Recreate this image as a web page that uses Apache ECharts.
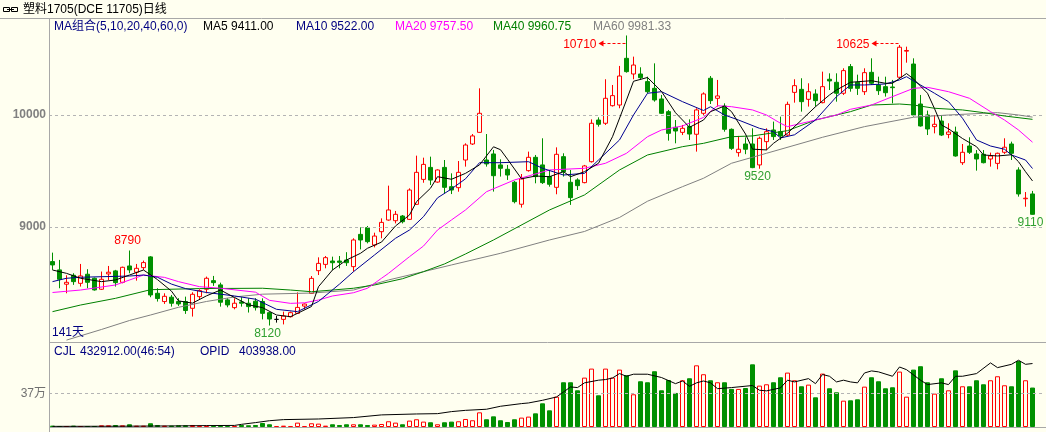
<!DOCTYPE html>
<html><head><meta charset="utf-8">
<script src="https://cdn.jsdelivr.net/npm/echarts@6/dist/echarts.min.js"></script>
<style>html,body{margin:0;padding:0;background:#fffff0}#c{width:1046px;height:432px}</style>
</head><body><div id="c"></div>
<script>
// ---------------- data ----------------
const opens = [8691,8617,8489,8569,8497,8578,8542,8444,8581,8608,
8506,8652,8596,8637,8733,8408,8334,8373,8334,8334,
8274,8378,8444,8521,8483,8349,8280,8331,8319,8337,
8335,8235,8175,8175,8199,8229,8294,8407,8610,8666,
8696,8696,8705,8646,8934,8994,8839,8958,9062,9056,
9098,9068,9202,9425,9532,9401,9532,9360,9351,9598,
9741,9845,9598,9652,9554,9515,9399,9203,9503,9622,
9554,9450,9354,9628,9399,9420,9396,9583,9955,9926,
10083,10089,10506,10366,10366,10298,10238,10143,10030,9890,
9845,9896,9828,10015,10328,10149,10080,9872,9664,9741,
9741,9554,9762,9866,9851,9821,10202,10229,10140,10188,
10110,10319,10292,10194,10432,10292,10208,10381,10268,10253,
10250,10337,10570,10455,10098,10000,9896,9946,9827,9848,
9574,9723,9652,9649,9607,9568,9667,9741,9509,9252,
9295];
const closes = [8661,8533,8506,8512,8563,8506,8438,8533,8596,8503,
8640,8617,8631,8682,8393,8361,8381,8319,8313,8254,
8399,8432,8542,8503,8328,8304,8319,8319,8289,8280,
8229,8178,8175,8205,8235,8282,8312,8541,8675,8726,
8681,8684,8681,8884,8884,8869,8919,9041,9152,9113,
9047,9330,9488,9559,9419,9509,9354,9330,9488,9732,
9813,10015,9563,9458,9524,9464,9226,9429,9622,9450,
9396,9381,9649,9494,9262,9369,9545,9926,9917,10149,
10173,10348,10387,10446,10333,10208,10134,10015,9836,9857,
9881,9830,10045,10188,10128,10170,9872,9702,9694,9694,
9530,9792,9851,9807,9813,10095,10262,10119,10208,10128,
10253,10304,10194,10396,10238,10238,10378,10283,10217,10199,
10244,10605,10576,10000,9902,9875,9917,9821,9848,9634,
9667,9667,9607,9574,9634,9658,9712,9658,9295,9257,
9113];
const lows = [8617,8453,8408,8483,8468,8453,8432,8438,8527,8468,
8497,8587,8521,8617,8373,8334,8313,8289,8295,8224,
8200,8349,8408,8474,8289,8283,8265,8289,8236,8254,
8175,8120,8146,8130,8193,8223,8265,8402,8571,8631,
8616,8631,8652,8601,8800,8854,8818,8899,9056,9032,
9032,9062,9196,9395,9375,9395,9300,9294,9315,9539,
9732,9842,9539,9316,9450,9420,9211,9173,9494,9390,
9384,9360,9292,9450,9197,9330,9390,9575,9896,9911,
10075,10060,10378,10319,10313,10194,10119,10009,9771,9747,
9821,9777,9673,10000,10098,10075,9851,9688,9628,9650,
9525,9520,9688,9777,9777,9813,10110,10030,10075,10075,
10104,10223,10119,10179,10208,10179,10179,10268,10179,10164,
10104,10330,10467,9985,9896,9821,9836,9812,9792,9628,
9554,9652,9503,9568,9539,9515,9652,9598,9271,9181,
9110];
const highs = [8771,8706,8569,8587,8670,8623,8548,8602,8652,8617,
8646,8790,8670,8700,8740,8453,8408,8393,8364,8378,
8417,8444,8557,8563,8503,8364,8364,8373,8364,8364,
8363,8240,8205,8244,8244,8416,8318,8562,8729,8741,
8735,8741,8775,8899,8997,9009,8949,9077,9369,9143,
9107,9345,9637,9619,9628,9515,9598,9479,9589,9747,
9830,10238,9830,9688,9604,9554,9411,9473,9673,9643,
9792,9503,9711,9658,9509,9435,9554,9961,9979,10319,
10268,10438,10710,10521,10426,10342,10461,10179,10045,9955,
9911,9961,10060,10202,10348,10313,10104,9880,9813,9800,
9881,9807,9881,9941,9985,10119,10319,10328,10283,10229,
10387,10372,10372,10417,10455,10360,10417,10506,10342,10342,
10313,10625,10610,10506,10179,10039,10000,10000,9926,9896,
9741,9801,9687,9687,9664,9664,9792,9762,9533,9312,
9322];
const volumes = [15000,11000,8000,15000,8000,8000,8000,19000,19000,22000,
19000,30000,15000,15000,41000,22000,15000,15000,19000,19000,
22000,15000,15000,15000,15000,11000,11000,22000,19000,22000,
44000,30000,11000,15000,11000,48000,11000,41000,37000,15000,
30000,22000,30000,30000,30000,22000,26000,33000,63000,48000,
30000,70000,85000,59000,52000,30000,52000,59000,63000,88000,
74000,161000,85000,117000,74000,55000,85000,103000,114000,150000,
260000,183000,333000,491000,491000,403000,542000,641000,348000,641000,
542000,630000,568000,359000,502000,491000,612000,403000,516000,374000,
513000,535000,677000,579000,513000,491000,491000,418000,418000,428000,
688000,454000,469000,491000,546000,597000,513000,447000,465000,326000,
586000,425000,381000,289000,293000,304000,443000,546000,502000,425000,
436000,608000,333000,630000,667000,491000,366000,535000,403000,622000,
447000,447000,513000,469000,513000,557000,458000,447000,725000,513000,
432912];
// moving averages: [day index, value]
const ma5 = [[0,8616],[2,8586],[4,8542],[7,8512],[9,8527],[11,8571],[13,8616],[15,8530],[17,8427],[18,8340],[20,8320],[22,8385],[24,8437],[26,8370],[28,8305],[30,8280],[32,8214],[34,8199],[35,8229],[37,8290],[38,8467],[40,8616],[42,8705],[44,8765],[45,8810],[47,8865],[49,9009],[51,9107],[52,9226],[54,9346],[55,9449],[57,9426],[59,9479],[61,9554],[63,9716],[64,9690],[65,9605],[67,9430],[69,9455],[71,9449],[73,9494],[74,9449],[76,9494],[78,9569],[80,9806],[82,10134],[83,10301],[85,10335],[87,10210],[89,10020],[91,9890],[93,9955],[94,10030],[96,10080],[97,10030],[99,9830],[100,9695],[102,9688],[103,9747],[105,9837],[107,9955],[109,10074],[111,10179],[112,10223],[114,10292],[117,10306],[119,10283],[120,10283],[122,10370],[123,10322],[125,10194],[126,10057],[127,9910],[128,9877],[130,9790],[132,9717],[133,9643],[135,9634],[137,9645],[138,9583],[139,9494],[140,9411]];
const ma10 = [[0,8512],[2,8542],[4,8551],[7,8556],[11,8562],[13,8571],[15,8551],[17,8490],[19,8450],[22,8415],[24,8400],[26,8384],[29,8355],[32,8265],[35,8244],[38,8335],[41,8490],[43,8601],[46,8750],[49,8899],[51,8973],[53,9092],[55,9260],[57,9340],[59,9430],[61,9574],[64,9574],[68,9583],[70,9524],[73,9464],[76,9479],[78,9598],[81,9777],[83,10000],[85,10194],[87,10208],[90,10119],[93,10040],[94,10074],[96,10000],[98,9955],[101,9881],[103,9851],[104,9795],[106,9823],[109,9955],[112,10164],[114,10268],[116,10268],[119,10277],[121,10313],[122,10342],[124,10268],[126,10194],[128,10119],[130,9971],[132,9777],[134,9723],[136,9694],[137,9643],[139,9598],[140,9522]];
const ma20 = [[0,8415],[4,8437],[9,8482],[13,8571],[16,8550],[18,8512],[21,8467],[24,8453],[29,8418],[31,8345],[34,8318],[36,8323],[38,8348],[40,8384],[43,8413],[45,8453],[47,8542],[48,8586],[51,8735],[53,8830],[55,8973],[57,9063],[59,9152],[62,9315],[66,9420],[71,9509],[76,9524],[79,9569],[82,9658],[85,9806],[87,9866],[90,9902],[93,9978],[95,10083],[97,10074],[100,10045],[102,10000],[104,9926],[105,9896],[108,9940],[112,10000],[114,10051],[117,10089],[120,10164],[123,10238],[125,10247],[128,10208],[131,10149],[134,10030],[136,9955],[138,9866],[140,9757]];
const ma40 = [[0,8244],[4,8303],[9,8363],[14,8440],[21,8450],[30,8453],[34,8437],[37,8422],[40,8437],[43,8453],[46,8482],[50,8538],[53,8601],[56,8670],[59,8759],[63,8884],[71,9152],[76,9286],[81,9509],[85,9643],[90,9717],[93,9747],[97,9806],[100,9813],[105,9860],[109,9955],[114,10030],[117,10089],[121,10098],[123,10089],[126,10060],[130,10045],[133,10021],[136,9991],[140,9961]];
const ma60 = [[2,7990],[7,8085],[11,8165],[14,8214],[18,8283],[22,8335],[26,8375],[30,8400],[37,8410],[43,8437],[48,8527],[53,8601],[57,8661],[64,8765],[71,8884],[76,8960],[81,9085],[85,9230],[90,9360],[93,9435],[97,9569],[102,9658],[110,9801],[116,9896],[123,9980],[128,10000],[135,10021],[138,10000],[140,9981]];
const opid = [[0,4000],[10,5000],[18,7000],[22,9000],[26,10000],[27,17000],[29,28000],[31,40000],[33,47000],[38,51000],[43,60000],[47,77000],[52,83000],[55,85000],[57,98000],[59,106000],[62,113000],[64,132000],[67,149000],[68,153000],[70,170000],[72,191000],[73,223000],[74,255000],[75,251000],[76,281000],[78,298000],[79,302000],[80,312000],[81,340000],[82,323000],[83,336000],[85,336000],[87,315000],[89,276000],[90,293000],[91,259000],[92,281000],[93,293000],[94,281000],[95,244000],[97,251000],[100,264000],[101,234000],[102,230000],[104,249000],[105,298000],[106,287000],[108,308000],[109,276000],[110,334000],[111,323000],[112,287000],[113,298000],[114,287000],[115,281000],[116,344000],[117,357000],[118,351000],[120,323000],[121,382000],[122,365000],[124,298000],[125,270000],[127,281000],[128,270000],[129,323000],[130,323000],[132,340000],[134,408000],[135,378000],[137,399000],[138,425000],[139,399000],[140,403938]];
const priceTicks = [9000, 10000];
const volTicks = [370000];
const maLast = [9411.00, 9522.00, 9757.50, 9960.75, 9981.33];
const cjlText = ['432912.00(46:54)', '403938.00'];
const notes = [
  {i:11, v:8790, text:'8790', kind:'above'},
  {i:31, v:8120, text:'8120', kind:'below'},
  {i:101, v:9520, text:'9520', kind:'below'},
  {i:140, v:9110, text:'9110', kind:'below'},
  {i:82, v:10710, text:'10710', kind:'arrow'},
  {i:121, v:10625, text:'10625', kind:'arrow'}
];

// ---------------- style ----------------
const BG='#fffff0', RED='#ff0000', GRN='#009000', LOWC='#30a030', FRAME='#a8a8a8';
const FONT="'Liberation Sans','Noto Sans CJK SC',sans-serif";
const N = opens.length;
const cats = Array.from({length:N+1},(_,k)=>String(k+1));
const candle = opens.map((o,k)=>[o,closes[k],lows[k],highs[k]]);
const volData = volumes.map((v,k)=>{
  const up = closes[k] >= opens[k];
  return {value:v, itemStyle: up ? {color:BG,borderColor:RED,borderWidth:1} : {color:GRN,borderColor:GRN,borderWidth:1}};
});

const chart = echarts.init(document.getElementById('c'));
function lineSeries(data,color){
  return {type:'line',xAxisIndex:0,yAxisIndex:0,data:data,showSymbol:false,symbol:'none',smooth:false,
    lineStyle:{width:1,color:color},itemStyle:{color:color},z:5,silent:true,animation:false,clip:true};
}
const option = {
  backgroundColor: BG,
  animation: false,
  grid: [
    {left:49,right:3,top:18,height:324,outerBoundsMode:'none',containLabel:false},
    {left:49,right:3,top:345,height:82,outerBoundsMode:'none',containLabel:false}
  ],
  xAxis: [
    {type:'category',gridIndex:0,data:cats,boundaryGap:true,axisLine:{show:false},axisTick:{show:false},axisLabel:{show:false},splitLine:{show:false}},
    {type:'category',gridIndex:1,data:cats,boundaryGap:true,axisLine:{show:false},axisTick:{show:false},axisLabel:{show:false},splitLine:{show:false}}
  ],
  yAxis: [
    {type:'value',gridIndex:0,min:7973,max:10866,axisLine:{show:false},axisTick:{show:false},splitLine:{show:false},
      axisLabel:{customValues:priceTicks,formatter:(v)=>String(v),color:'#808080',fontWeight:'bold',fontSize:12,fontFamily:FONT,margin:3}},
    {type:'value',gridIndex:1,min:0,max:900000,axisLine:{show:false},axisTick:{show:false},splitLine:{show:false},
      axisLabel:{customValues:volTicks,formatter:(v)=> (v/10000)+'万',color:'#707070',fontSize:12,fontFamily:FONT,margin:3}},
    {type:'value',gridIndex:1,min:0,max:522000,show:false,splitLine:{show:false}}
  ],
  series: [
    {type:'candlestick',xAxisIndex:0,yAxisIndex:0,data:candle,barWidth:5,z:3,silent:true,
      itemStyle:{color:BG,color0:GRN,borderColor:RED,borderColor0:GRN,borderColorDoji:'#000000',borderWidth:1},
      markLine:{silent:true,symbol:['none','none'],label:{show:false},animation:false,
        lineStyle:{color:'#b4b4b4',type:[3,3],width:1},data:priceTicks.map(v=>({yAxis:v}))}},
    lineSeries(ma60,'#808080'),
    lineSeries(ma40,'#008000'),
    lineSeries(ma20,'#ff00ff'),
    lineSeries(ma10,'#000090'),
    lineSeries(ma5,'#000000'),
    {type:'bar',xAxisIndex:1,yAxisIndex:1,data:volData,barWidth:5,z:3,silent:true,
      markLine:{silent:true,symbol:['none','none'],label:{show:false},animation:false,
        lineStyle:{color:'#b4b4b4',type:[3,3],width:1},data:volTicks.map(v=>({yAxis:v}))}},
    {type:'line',xAxisIndex:1,yAxisIndex:2,data:opid,showSymbol:false,symbol:'none',lineStyle:{width:1,color:'#000'},z:5,silent:true}
  ]
};
chart.setOption(option);

// ---------------- texts / frame ----------------
function txt(x,y,text,color,opts){
  opts = opts||{};
  return {type:'text',x:x,y:y,silent:true,z:50,style:{text:text,fill:color,font:(opts.weight||'normal')+' '+(opts.size||12)+'px '+FONT,
    textAlign:opts.align||'left',textVerticalAlign:'middle',align:opts.align||'left',verticalAlign:'middle'}};
}
function ln(x1,y1,x2,y2,color,dash){
  return {type:'line',silent:true,z:40,shape:{x1:x1,y1:y1,x2:x2,y2:y2},style:{stroke:color,lineWidth:1,lineDash:dash||null}};
}
const g = [];
// frame
g.push(ln(0,18.5,1046,18.5,FRAME));
g.push(ln(49.5,18,49.5,432,FRAME));
g.push(ln(49,342.5,1046,342.5,FRAME));
g.push(ln(49,427.5,1046,427.5,FRAME));
// title icon + title
g.push({type:'rect',silent:true,shape:{x:3.5,y:7.5,width:6,height:4},style:{stroke:'#000',fill:null,lineWidth:1}});
g.push({type:'rect',silent:true,shape:{x:11.5,y:7.5,width:6,height:4},style:{stroke:'#000',fill:null,lineWidth:1}});
g.push(ln(7,9.5,14,9.5,'#000'));
g.push(txt(23,10,'塑料1705(DCE 11705)日线','#000000'));
// MA legend
g.push(txt(54,27,'MA组合(5,10,20,40,60,0)','#000080'));
g.push(txt(203,27,'MA5 '+maLast[0].toFixed(2),'#000000'));
g.push(txt(296,27,'MA10 '+maLast[1].toFixed(2),'#000080'));
g.push(txt(395,27,'MA20 '+maLast[2].toFixed(2),'#ff00ff'));
g.push(txt(493,27,'MA40 '+maLast[3].toFixed(2),'#008000'));
g.push(txt(593,27,'MA60 '+maLast[4].toFixed(2),'#808080'));
// day count
g.push(txt(52,333,N+'天','#000080'));
// volume legend
g.push(txt(54,352,'CJL','#000080'));
g.push(txt(80,352,cjlText[0],'#000080'));
g.push(txt(200,352,'OPID','#000080'));
g.push(txt(239,352,cjlText[1],'#000080'));
// annotations through the price scale
const px = (k,v)=>chart.convertToPixel({gridIndex:0},[k,v]);
notes.forEach(n=>{
  if(n.kind==='above'){
    const p = px(n.i,highs[n.i]);
    g.push(txt(p[0]-2,p[1]-9.5,n.text,RED,{align:'center'}));
  } else if(n.kind==='below'){
    const p = px(n.i,lows[n.i]);
    g.push(txt(p[0]-2,p[1]+8,n.text,LOWC,{align:'center'}));
  } else {
    const p = px(n.i,highs[n.i]);
    const y = Math.round(Math.max(p[1]-2,43))+0.5;
    const xe = p[0]-1, xa = p[0]-28;
    g.push(ln(xa+4,y,xe,y,RED,[3,2]));
    g.push({type:'polygon',silent:true,z:41,shape:{points:[[xa,y],[xa+5,y-3],[xa+5,y+3]]},style:{fill:RED}});
    g.push(txt(xa-2,y+1,n.text,RED,{align:'right'}));
  }
});
chart.setOption({graphic:g});
</script>
</body></html>
